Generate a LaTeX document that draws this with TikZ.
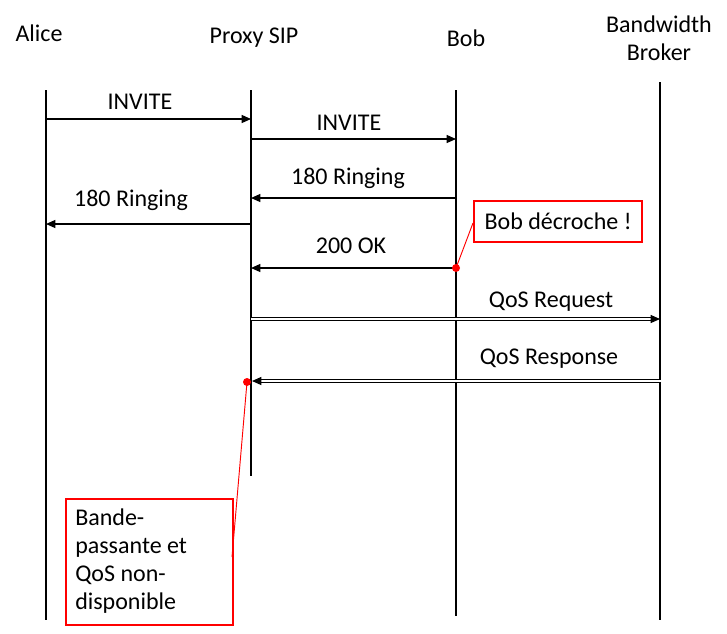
\documentclass[tikz,border=0pt]{standalone}
\usepackage{fontspec}
\setmainfont{Carlito}
\usetikzlibrary{arrows.meta}
\begin{document}
\begin{tikzpicture}[x=0.75pt,y=-0.75pt,
  every node/.style={font=\fontsize{18}{21}\selectfont,inner sep=0pt},
  life/.style={draw=black,line width=0.9pt},
  msg/.style={draw=black,line width=0.9pt,-{Triangle[length=7pt,width=6pt]}},
  dmsg/.style={draw=black,double,double distance=1.3pt,line width=0.85pt,-{Triangle[length=7pt,width=6pt]}},
  note/.style={draw=red,line width=1.6pt,fill=white},
  dot/.style={circle,fill=red,minimum size=6pt,inner sep=0pt},
  lead/.style={draw=red,line width=0.7pt}]
\useasboundingbox (0,0) rectangle (727,633);
% headers
\node (alice) at (39,33) {Alice};
\node (proxy) at (254,38) {Proxy SIP};
\node (bob) at (466,38) {Bob};
\node[align=center] (bb) at (659,38) {Bandwidth\\Broker};
% lifelines
\coordinate (aT) at (46,90);  \coordinate (aB) at (46,620);
\coordinate (pT) at (251,90); \coordinate (pB) at (251,476);
\coordinate (bT) at (456,90); \coordinate (bB) at (456,616);
\coordinate (wT) at (660,82); \coordinate (wB) at (660,620);
\draw[life] (aT) -- (aB);
\draw[life] (pT) -- (pB);
\draw[life] (bT) -- (bB);
\draw[life] (wT) -- (wB);
% messages
\coordinate (a1) at (46,119);  \coordinate (p1) at (251,119);
\draw[msg] (a1) -- (p1);
\node (l1) at (140,102) {INVITE};
\coordinate (p2) at (251,139);  \coordinate (b2) at (456,139);
\draw[msg] (p2) -- (b2);
\node (l2) at (349,123) {INVITE};
\coordinate (b3) at (456,198);  \coordinate (p3) at (251,198);
\draw[msg] (b3) -- (p3);
\node (l3) at (348,178) {180 Ringing};
\coordinate (p4) at (251,224);  \coordinate (a4) at (46,224);
\draw[msg] (p4) -- (a4);
\node (l4) at (131,200) {180 Ringing};
\coordinate (b5) at (456,268);  \coordinate (p5) at (251,268);
\draw[msg] (b5) -- (p5);
\node (l5) at (351,246) {200 OK};
\coordinate (p6) at (251,319);  \coordinate (w6) at (660,319);
\draw[dmsg] (p6) -- (w6);
\node (l6) at (551,302) {QoS Request};
\coordinate (w7) at (661,381);  \coordinate (p7) at (252,381);
\draw[dmsg] (w7) -- (p7);
\node (l7) at (549,359) {QoS Response};
% notes
\node[note,anchor=north west,minimum width=126pt,minimum height=31pt,align=center] (n1) at (473,200) {Bob décroche !};
\node[dot] (d1) at (456,268) {};
\draw[lead] (d1.center) -- (473,223);
\node[note,anchor=north west,minimum width=125pt,minimum height=94.5pt] (n2) at (65,498) {};
\node[anchor=north west,align=left] (n2t) at (75,509) {Bande-\\passante et\\QoS non-\\disponible};
\node[dot] (d2) at (247,382) {};
\draw[lead] (d2.center) -- (232,557);
\end{tikzpicture}
\end{document}
